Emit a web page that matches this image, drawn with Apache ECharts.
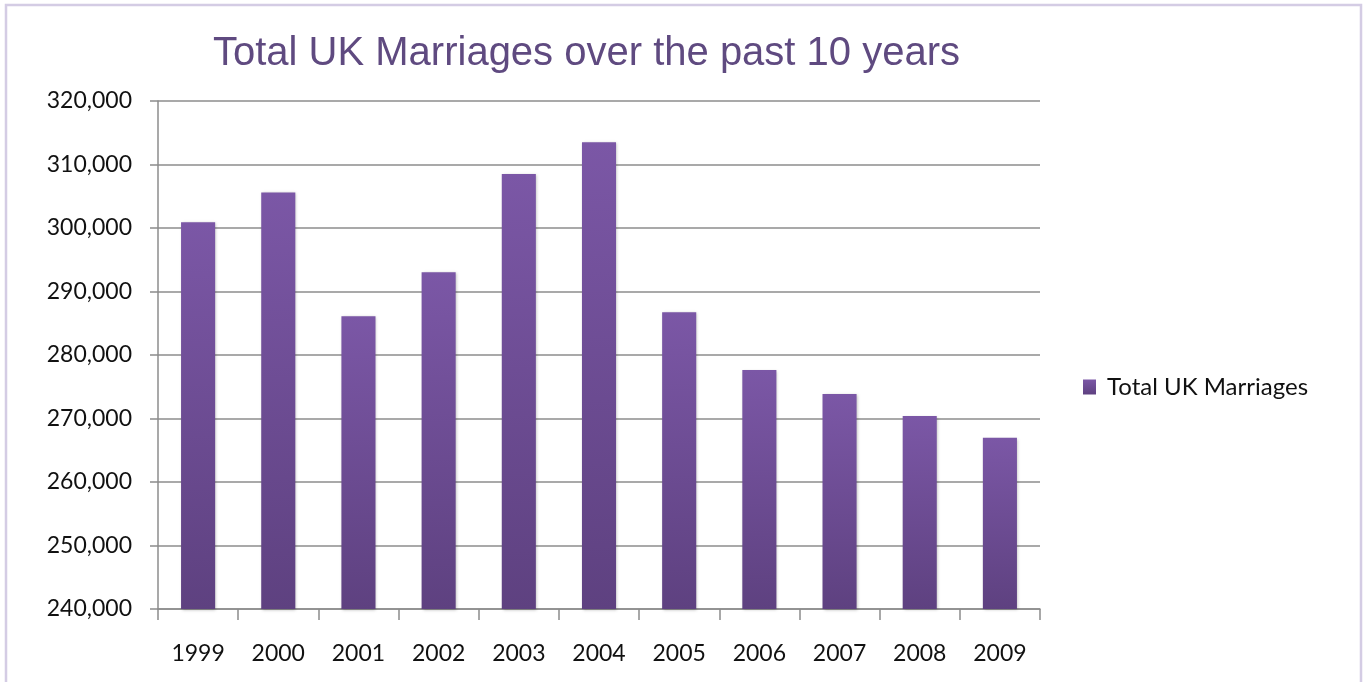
<!DOCTYPE html>
<html>
<head>
<meta charset="utf-8">
<title>Total UK Marriages</title>
<script src="https://cdn.jsdelivr.net/npm/echarts@6/dist/echarts.min.js"></script>
<style>
  html, body { margin: 0; padding: 0; background: #fff; }
  #chart { width: 1368px; height: 682px; }
</style>
</head>
<body>
<div id="chart"></div>
<script>
// years on the x axis
const years = ['1999', '2000', '2001', '2002', '2003', '2004', '2005', '2006', '2007', '2008', '2009'];
// total marriages
const marriages = [300900, 305600, 286100, 293050, 308500, 313500, 286750, 277650, 273850, 270400, 266950];
// y axis range
const yMin = 240000;
const yMax = 320000;
const yStep = 10000;

const myChart = echarts.init(document.getElementById('chart'));

const labelFont = 'Lato, "Open Sans", sans-serif';

const option = {
    backgroundColor: '#fff',
    animation: false,
    title: {
        text: 'Total UK Marriages over the past 10 years',
        left: 213,
        top: 34,
        padding: 0,
        textStyle: {
            fontFamily: '"Liberation Sans", Arial, sans-serif',
            fontSize: 40,
            fontWeight: 'normal',
            color: '#5f4a80'
        }
    },
    legend: {
        left: 1083,
        top: 375,
        padding: 0,
        itemWidth: 13,
        itemHeight: 15,
        icon: 'rect',
        data: ['Total UK Marriages'],
        textStyle: {
            fontFamily: labelFont,
            fontSize: 24,
            color: '#111',
            padding: [0, 0, 0, 6]
        }
    },
    grid: {
        left: 158,
        right: 328,
        top: 101,
        bottom: 73,
        containLabel: false
    },
    xAxis: {
        type: 'category',
        data: years,
        axisLine: { lineStyle: { color: '#8c8c8c', width: 1.5 } },
        axisTick: { show: true, length: 11, lineStyle: { color: '#8c8c8c', width: 1.5 } },
        axisLabel: {
            margin: 33,
            fontFamily: labelFont,
            fontSize: 23,
            color: '#111'
        }
    },
    yAxis: {
        type: 'value',
        min: yMin,
        max: yMax,
        interval: yStep,
        axisLine: { show: true, lineStyle: { color: '#8c8c8c', width: 1.5 } },
        axisTick: { show: true, length: 8, lineStyle: { color: '#8c8c8c', width: 1.5 } },
        splitLine: { show: true, lineStyle: { color: '#8c8c8c', width: 1.5 } },
        axisLabel: {
            margin: 26,
            fontFamily: labelFont,
            fontSize: 23,
            color: '#111',
            formatter: function (v) {
                return v.toLocaleString('en-US');
            }
        }
    },
    graphic: [
        {
            // pale purple frame around the chart
            type: 'rect',
            shape: { x: 6, y: 5, width: 1355, height: 700 },
            style: { fill: 'none', stroke: '#d4cce4', lineWidth: 2.5 },
            silent: true,
            z: -1
        }
    ],
    series: [
        {
            name: 'Total UK Marriages',
            type: 'bar',
            data: marriages,
            barCategoryGap: '57.5%',
            itemStyle: {
                color: new echarts.graphic.LinearGradient(0, 0, 0, 1, [
                    { offset: 0, color: '#7b57a6' },
                    { offset: 1, color: '#5e4180' }
                ]),
                shadowBlur: 3,
                shadowOffsetX: 1,
                shadowOffsetY: 1,
                shadowColor: 'rgba(0, 0, 0, 0.25)'
            }
        }
    ]
};

myChart.setOption(option);

window.addEventListener('resize', function () {
    myChart.resize();
});
</script>
</body>
</html>
